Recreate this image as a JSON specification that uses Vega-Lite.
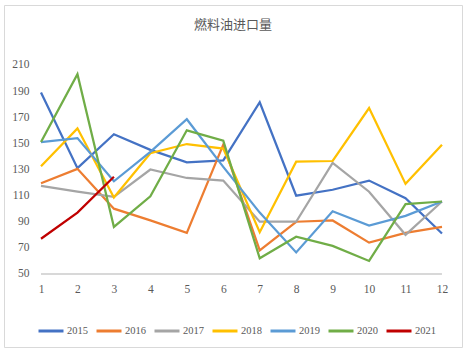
{
  "$schema": "https://vega.github.io/schema/vega-lite/v6.json",
  "autosize": {"type": "none"},
  "padding": {"left": 4, "top": 5, "right": 4, "bottom": 4},
  "width": 458,
  "height": 342,
  "background": "white",
  "config": {
    "view": {"stroke": "#D9D9D9", "strokeWidth": 1},
    "axis": {"labelFont": "Liberation Serif", "labelColor": "#595959", "labelFontSize": 11.5, "ticks": false, "grid": false, "domain": false, "title": null}
  },
  "title": {
    "text": "燃料油进口量",
    "font": "Noto Sans CJK SC",
    "fontSize": 13,
    "fontWeight": "normal",
    "color": "#595959",
    "anchor": "middle",
    "offset": -40,
    "baseline": "bottom"
  },
  "data": {
    "values": [
      {"month": 1, "year": "2015", "value": 189},
      {"month": 2, "year": "2015", "value": 131},
      {"month": 3, "year": "2015", "value": 157},
      {"month": 4, "year": "2015", "value": 145},
      {"month": 5, "year": "2015", "value": 135.5},
      {"month": 6, "year": "2015", "value": 137},
      {"month": 7, "year": "2015", "value": 181.5},
      {"month": 8, "year": "2015", "value": 110},
      {"month": 9, "year": "2015", "value": 114.5},
      {"month": 10, "year": "2015", "value": 121.5},
      {"month": 11, "year": "2015", "value": 108},
      {"month": 12, "year": "2015", "value": 81},
      {"month": 1, "year": "2016", "value": 119.5},
      {"month": 2, "year": "2016", "value": 130.5},
      {"month": 3, "year": "2016", "value": 100},
      {"month": 4, "year": "2016", "value": 91},
      {"month": 5, "year": "2016", "value": 81.5},
      {"month": 6, "year": "2016", "value": 149},
      {"month": 7, "year": "2016", "value": 68},
      {"month": 8, "year": "2016", "value": 90},
      {"month": 9, "year": "2016", "value": 91},
      {"month": 10, "year": "2016", "value": 74},
      {"month": 11, "year": "2016", "value": 81.5},
      {"month": 12, "year": "2016", "value": 86},
      {"month": 1, "year": "2017", "value": 117.5},
      {"month": 2, "year": "2017", "value": 113},
      {"month": 3, "year": "2017", "value": 109},
      {"month": 4, "year": "2017", "value": 130},
      {"month": 5, "year": "2017", "value": 123.5},
      {"month": 6, "year": "2017", "value": 121.5},
      {"month": 7, "year": "2017", "value": 90},
      {"month": 8, "year": "2017", "value": 90},
      {"month": 9, "year": "2017", "value": 135},
      {"month": 10, "year": "2017", "value": 113},
      {"month": 11, "year": "2017", "value": 80},
      {"month": 12, "year": "2017", "value": 105.5},
      {"month": 1, "year": "2018", "value": 132.5},
      {"month": 2, "year": "2018", "value": 161.5},
      {"month": 3, "year": "2018", "value": 108.5},
      {"month": 4, "year": "2018", "value": 142.5},
      {"month": 5, "year": "2018", "value": 149.5},
      {"month": 6, "year": "2018", "value": 146},
      {"month": 7, "year": "2018", "value": 82},
      {"month": 8, "year": "2018", "value": 136},
      {"month": 9, "year": "2018", "value": 136.5},
      {"month": 10, "year": "2018", "value": 177},
      {"month": 11, "year": "2018", "value": 119},
      {"month": 12, "year": "2018", "value": 149},
      {"month": 1, "year": "2019", "value": 151},
      {"month": 2, "year": "2019", "value": 154},
      {"month": 3, "year": "2019", "value": 121},
      {"month": 4, "year": "2019", "value": 143.5},
      {"month": 5, "year": "2019", "value": 168.5},
      {"month": 6, "year": "2019", "value": 132},
      {"month": 7, "year": "2019", "value": 97},
      {"month": 8, "year": "2019", "value": 66.5},
      {"month": 9, "year": "2019", "value": 98},
      {"month": 10, "year": "2019", "value": 87},
      {"month": 11, "year": "2019", "value": 94.5},
      {"month": 12, "year": "2019", "value": 105.5},
      {"month": 1, "year": "2020", "value": 151},
      {"month": 2, "year": "2020", "value": 203},
      {"month": 3, "year": "2020", "value": 86},
      {"month": 4, "year": "2020", "value": 109.5},
      {"month": 5, "year": "2020", "value": 160},
      {"month": 6, "year": "2020", "value": 152},
      {"month": 7, "year": "2020", "value": 62},
      {"month": 8, "year": "2020", "value": 78.5},
      {"month": 9, "year": "2020", "value": 71.5},
      {"month": 10, "year": "2020", "value": 60},
      {"month": 11, "year": "2020", "value": 103.5},
      {"month": 12, "year": "2020", "value": 105.5},
      {"month": 1, "year": "2021", "value": 77},
      {"month": 2, "year": "2021", "value": 97},
      {"month": 3, "year": "2021", "value": 124.5}
    ]
  },
  "layer": [
    {
      "mark": {"type": "rule", "color": "#D9D9D9", "strokeWidth": 1},
      "encoding": {
        "x": {"datum": 1, "type": "quantitative"},
        "x2": {"datum": 12},
        "y": {"datum": 50, "type": "quantitative"}
      }
    },
    {
      "mark": {"type": "line", "strokeWidth": 2.25},
      "encoding": {
        "x": {
          "field": "month",
          "type": "quantitative",
          "scale": {"domain": [-0.015, 12.549], "nice": false, "zero": false},
          "axis": {"values": [1,2,3,4,5,6,7,8,9,10,11,12], "orient": "bottom", "offset": -73, "labelPadding": 9, "format": "d", "labelFlush": false}
        },
        "y": {
          "field": "value",
          "type": "quantitative",
          "scale": {"domain": [-5.89, 255.93], "nice": false, "zero": false},
          "axis": {"values": [50,70,90,110,130,150,170,190,210], "orient": "left", "offset": -37, "labelPadding": 12}
        },
        "color": {
          "field": "year",
          "type": "nominal",
          "scale": {
            "domain": ["2015","2016","2017","2018","2019","2020","2021"],
            "range": ["#4472C4","#ED7D31","#A5A5A5","#FFC000","#5B9BD5","#70AD47","#C00000"]
          },
          "legend": {
            "orient": "none",
            "direction": "horizontal",
            "columns": 7,
            "legendX": 33,
            "legendY": 312,
            "title": null,
            "symbolType": "stroke",
            "symbolSize": 625,
            "symbolStrokeWidth": 3,
            "labelFont": "Liberation Serif",
            "labelFontSize": 10.5,
            "labelColor": "#595959",
            "labelOffset": 2,
            "columnPadding": 2
          }
        },
        "strokeWidth": {
          "condition": {"test": "datum.year === '2021'", "value": 3},
          "value": 2.25
        }
      }
    }
  ]
}
